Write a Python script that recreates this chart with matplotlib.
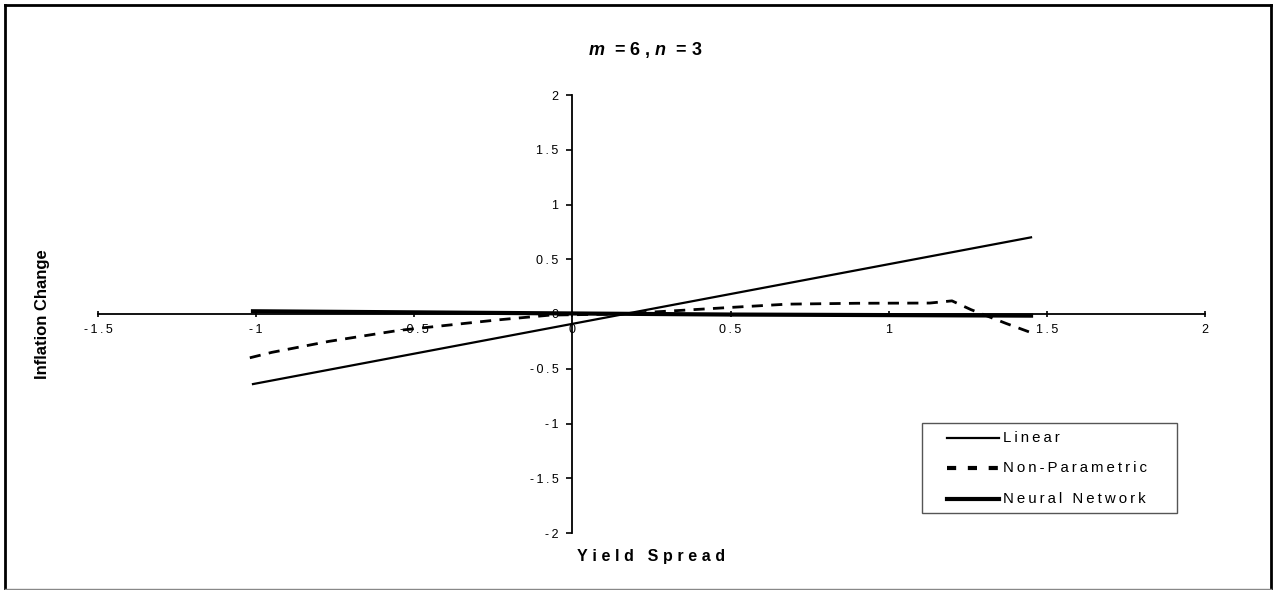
import matplotlib
matplotlib.use("Agg")
import matplotlib.pyplot as plt
from matplotlib.lines import Line2D
from matplotlib.patches import Rectangle

# data
linear_x = [-1.01, 1.45]
linear_y = [-0.64, 0.70]

nonpar_x = [-1.02, -0.95, -0.77, -0.55, -0.24, -0.07, 0.15, 0.5, 0.68, 0.9, 1.13, 1.2, 1.26, 1.37, 1.45]
nonpar_y = [-0.40, -0.35, -0.25, -0.15, -0.055, -0.01, 0.0, 0.06, 0.09, 0.098, 0.10, 0.12, 0.04, -0.085, -0.17]

nn_x = [-1.01, -0.5, 0.0, 0.5, 1.0, 1.45]
nn_y = [0.025, 0.015, 0.005, -0.005, -0.01, -0.015]

series_names = ["Linear", "Non-Parametric", "Neural Network"]
xticks = [-1.5, -1, -0.5, 0, 0.5, 1, 1.5, 2]
yticks = [-2, -1.5, -1, -0.5, 0, 0.5, 1, 1.5, 2]

FONT = ["Liberation Sans", "DejaVu Sans"]
plt.rcParams["font.family"] = FONT
plt.rcParams["mathtext.fontset"] = "custom"
plt.rcParams["mathtext.it"] = "Liberation Sans:italic:bold"
plt.rcParams["mathtext.rm"] = "Liberation Sans:bold"


def spaced(s, sep="\u2009"):
    return sep.join(s)


def fmt(v):
    return spaced(f"{v:g}")


W, H = 1276, 590
fig = plt.figure(figsize=(W / 100, H / 100), dpi=100)
ax = fig.add_axes([98 / W, 57 / H, (1205 - 98) / W, (533 - 95) / H])

styles = [dict(lw=1.6), dict(lw=2.0, dashes=(4, 3)), dict(lw=3.0)]
legend_styles = [dict(lw=1.6), dict(lw=3.0, dashes=(2.2, 2.8)), dict(lw=3.0)]

ax.plot(linear_x, linear_y, color="black", **styles[0])
ax.plot(nonpar_x, nonpar_y, color="black", **styles[1])
ax.plot(nn_x, nn_y, color="black", **styles[2])

ax.set_xlim(-1.5, 2)
ax.set_ylim(-2, 2)
ax.spines["left"].set_position(("data", 0))
ax.spines["bottom"].set_position(("data", 0))
ax.spines["top"].set_visible(False)
ax.spines["right"].set_visible(False)
for sp in ("left", "bottom"):
    ax.spines[sp].set_linewidth(1.3)

ax.set_xticks(xticks)
ax.set_xticklabels([fmt(v) for v in xticks])
ax.set_yticks(yticks)
ax.set_yticklabels([fmt(v) for v in yticks])
ax.tick_params(axis="x", direction="inout", length=5, width=1.2, labelsize=9, pad=5)
ax.tick_params(axis="y", direction="out", length=4, width=1.2, labelsize=9, pad=6)

# titles and axis labels
fig.text(645 / W, 1 - 50 / H, r"$m$  = 6 , $n$  = 3", ha="center", va="center",
         fontsize=13, fontweight="bold")
fig.text(651 / W, 1 - 557 / H, spaced("Yield Spread", "\u2009\u200a"), ha="center", va="center",
         fontsize=11.5, fontweight="bold")
fig.text(43 / W, 1 - 314 / H, "Inflation Change", ha="center", va="center",
         fontsize=12, fontweight="bold", rotation=90)

# legend box drawn by hand to match the Excel layout
tf = fig.transFigure
fig.add_artist(Rectangle((922 / W, 1 - 513 / H), (1177 - 922) / W, 90 / H, transform=tf,
                         facecolor="white", edgecolor="#555555", lw=1.0, zorder=5))
for name, st, yy in zip(series_names, legend_styles, [438, 468, 499]):
    fig.add_artist(Line2D([947 / W, 999 / W], [1 - yy / H] * 2, color="black", transform=tf,
                          zorder=6, **st))
    fig.text(1003 / W, 1 - yy / H, spaced(name), ha="left", va="center", fontsize=10.8, zorder=6)

# outer frame
fig.add_artist(Line2D([5 / W, 1271 / W], [1 - 5 / H, 1 - 5 / H], color="black", lw=2, transform=tf))
fig.add_artist(Line2D([5 / W, 5 / W], [1 - 5 / H, 0], color="black", lw=2, transform=tf))
fig.add_artist(Line2D([1271 / W, 1271 / W], [1 - 5 / H, 0], color="black", lw=2, transform=tf))
fig.add_artist(Line2D([5 / W, 1271 / W], [1 / H, 1 / H], color="#888888", lw=1, transform=tf))

fig.savefig("out.png", dpi=100)
